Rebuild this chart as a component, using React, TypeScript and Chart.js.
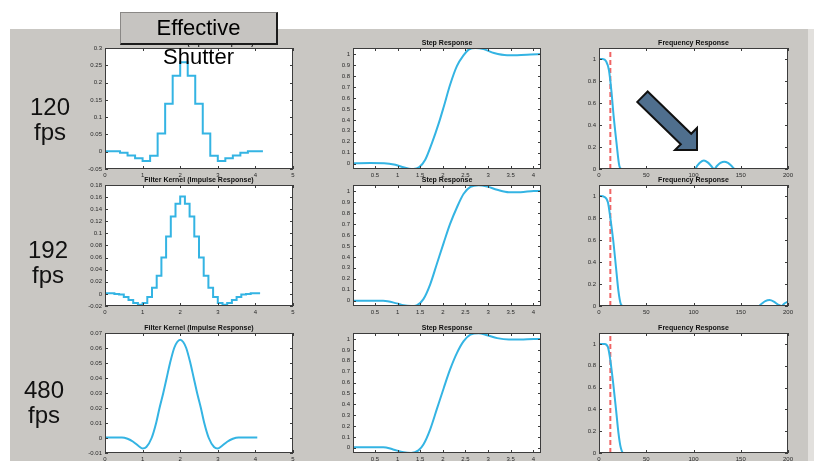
import React, { useEffect, useRef } from 'react';
import { Chart, registerables } from 'chart.js';

Chart.register(...registerables);

// ---------- tick values / labels ----------
const kernelTicksX = [0, 1, 2, 3, 4, 5];
const kernelTickLabelsX = ['0', '1', '2', '3', '4', '5'];
const stepTicksX = [0.5, 1, 1.5, 2, 2.5, 3, 3.5, 4];
const stepTickLabelsX = ['0.5', '1', '1.5', '2', '2.5', '3', '3.5', '4'];
const freqTicksX = [0, 50, 100, 150, 200];
const freqTickLabelsX = ['0', '50', '100', '150', '200'];

const kernel120TicksY = [-0.05, 0, 0.05, 0.1, 0.15, 0.2, 0.25, 0.3];
const kernel120TickLabelsY = ['-0.05', '0', '0.05', '0.1', '0.15', '0.2', '0.25', '0.3'];
const kernel192TicksY = [-0.02, 0, 0.02, 0.04, 0.06, 0.08, 0.1, 0.12, 0.14, 0.16, 0.18];
const kernel192TickLabelsY = ['-0.02', '0', '0.02', '0.04', '0.06', '0.08', '0.1', '0.12', '0.14', '0.16', '0.18'];
const kernel480TicksY = [-0.01, 0, 0.01, 0.02, 0.03, 0.04, 0.05, 0.06, 0.07];
const kernel480TickLabelsY = ['-0.01', '0', '0.01', '0.02', '0.03', '0.04', '0.05', '0.06', '0.07'];
const stepTicksY = [0, 0.1, 0.2, 0.3, 0.4, 0.5, 0.6, 0.7, 0.8, 0.9, 1];
const stepTickLabelsY = ['0', '0.1', '0.2', '0.3', '0.4', '0.5', '0.6', '0.7', '0.8', '0.9', '1'];
const freqTicksY = [0, 0.2, 0.4, 0.6, 0.8, 1];
const freqTickLabelsY = ['0', '0.2', '0.4', '0.6', '0.8', '1'];

// ---------- titles / labels ----------
const titleKernel = 'Filter Kernel (Impulse Response)';
const titleStep = 'Step Response';
const titleFreq = 'Frequency Response';
const fpsLabels = ['120', '192', '480'];
const headerLines = ['Effective', 'Shutter'];

// ---------- filter kernels (stair samples: start of each step, last = end) ----------
const kernel120X = [0, 0.2, 0.4, 0.6, 0.8, 1.0, 1.2, 1.4, 1.6, 1.8, 2.0, 2.2, 2.4, 2.6, 2.8, 3.0, 3.2, 3.4, 3.6, 3.8, 4.0, 4.2];
const kernel120Y = [0.001, 0.001, -0.003, -0.011, -0.019, -0.027, -0.012, 0.053, 0.139, 0.22, 0.259, 0.22, 0.139, 0.053, -0.012, -0.027, -0.019, -0.011, -0.003, 0.001, 0.001, 0.001];

const kernel192X = [0, 0.125, 0.25, 0.375, 0.5, 0.625, 0.75, 0.875, 1.0, 1.125, 1.25, 1.375, 1.5, 1.625, 1.75, 1.875, 2.0, 2.125, 2.25, 2.375, 2.5, 2.625, 2.75, 2.875, 3.0, 3.125, 3.25, 3.375, 3.5, 3.625, 3.75, 3.875, 4.0, 4.125];
const kernel192Y = [0.001, 0.001, 0.0, -0.001, -0.005, -0.01, -0.015, -0.018, -0.015, -0.005, 0.01, 0.03, 0.06, 0.095, 0.128, 0.149, 0.161, 0.149, 0.128, 0.095, 0.06, 0.03, 0.01, -0.005, -0.015, -0.018, -0.015, -0.01, -0.005, -0.001, 0.0, 0.001, 0.001, 0.001];

const kernel480X = [0, 0.45, 0.6, 0.75, 0.9, 1.0, 1.1, 1.24, 1.36, 1.45, 1.55, 1.64, 1.73, 1.84, 1.92, 2.0, 2.08, 2.16, 2.27, 2.36, 2.45, 2.55, 2.64, 2.76, 2.9, 3.0, 3.1, 3.25, 3.4, 3.55, 4.05];
const kernel480Y = [0.0004, 0.0004, -0.0005, -0.0025, -0.0055, -0.007, -0.006, 0, 0.01, 0.02, 0.03, 0.04, 0.05, 0.06, 0.064, 0.0655, 0.064, 0.06, 0.05, 0.04, 0.03, 0.02, 0.01, 0, -0.006, -0.007, -0.0055, -0.0025, -0.0005, 0.0004, 0.0004];

// ---------- step responses ----------
const step120X = [0.013, 0.4, 0.7, 0.95, 1.1, 1.25, 1.35, 1.48, 1.61, 1.76, 1.91, 2.02, 2.16, 2.31, 2.46, 2.57, 2.72, 2.9, 3.13, 3.42, 3.64, 3.94, 4.17];
const step120Y = [0.005, 0.006, 0.005, -0.01, -0.03, -0.045, -0.048, -0.03, 0.036, 0.19, 0.37, 0.52, 0.72, 0.89, 0.99, 1.04, 1.055, 1.045, 1.01, 0.99, 0.99, 0.995, 1.0];

const step192X = [0.013, 0.4, 0.68, 0.98, 1.13, 1.3, 1.42, 1.57, 1.72, 1.87, 2.02, 2.16, 2.31, 2.46, 2.61, 2.79, 2.98, 3.2, 3.46, 3.72, 4.01, 4.17];
const step192Y = [0.0, 0.0, 0.0, -0.024, -0.042, -0.048, -0.042, 0.015, 0.15, 0.34, 0.53, 0.7, 0.85, 0.975, 1.037, 1.052, 1.04, 1.012, 0.99, 0.99, 1.0, 1.0];

const step480X = [0.013, 0.4, 0.68, 0.9, 1.13, 1.3, 1.46, 1.57, 1.72, 1.87, 2.02, 2.16, 2.31, 2.46, 2.61, 2.79, 2.98, 3.2, 3.46, 3.72, 4.01, 4.17];
const step480Y = [0.006, 0.006, 0.006, -0.015, -0.042, -0.048, -0.024, 0.03, 0.17, 0.36, 0.55, 0.72, 0.87, 0.98, 1.04, 1.053, 1.035, 1.008, 0.995, 0.995, 1.0, 1.0];

// ---------- frequency responses ----------
const freq120X = [0, 4, 7.5, 10.5, 13, 15.5, 18.5, 21.5, 24, 60, 101.5, 104, 107, 111, 115, 118.5, 122, 125, 128.5, 132.5, 136.5, 140, 144, 170, 200];
const freq120Y = [1, 1, 0.98, 0.9, 0.72, 0.48, 0.24, 0.03, 0, 0, 0, 0.03, 0.06, 0.077, 0.06, 0.03, 0, 0.03, 0.055, 0.067, 0.055, 0.03, 0, 0, 0];

const freq192X = [0, 6, 9.5, 12, 15, 18, 20.5, 23, 25.5, 100, 169, 172, 176, 180.5, 185, 189, 193, 196.5, 200];
const freq192Y = [1, 0.99, 0.94, 0.8, 0.6, 0.35, 0.14, 0.02, 0, 0, 0, 0.02, 0.045, 0.054, 0.04, 0.015, 0, 0.025, 0.04];

const freq480X = [0, 6, 9.5, 12, 15, 18, 20.5, 23, 26, 100, 200];
const freq480Y = [1, 1, 0.97, 0.85, 0.64, 0.4, 0.19, 0.05, 0, 0, 0];

const cutoffX = [12, 12];
const cutoffY = [0, 1.1];

// ---------- styles / layout ----------
const FONT = '"Liberation Sans", Arial, Helvetica, sans-serif';
const CYAN = '#34b4e3';
const RED = '#f06464';
const PANEL = '#c9c7c3';
const AXIS_W = 32;
const AXIS_H = 14;
const PAD_T = 14;
const PAD_R = 10;

const colBoxes = [
  { x: 105, w: 188 },
  { x: 353, w: 188 },
  { x: 599, w: 189 },
];
const rowBoxes = [
  { y: 48, h: 121 },
  { y: 185, h: 121 },
  { y: 333, h: 120 },
];

const pts = (xs: number[], ys: number[]) => xs.map((x, i) => ({ x, y: ys[i] }));

const framePlugin = {
  id: 'matlabFrame',
  beforeDraw(chart: any) {
    const { ctx, chartArea: a } = chart;
    ctx.save();
    ctx.fillStyle = '#ffffff';
    ctx.fillRect(a.left, a.top, a.right - a.left, a.bottom - a.top);
    ctx.restore();
  },
  afterDraw(chart: any, _args: any, opts: any) {
    const { ctx, chartArea: a, scales } = chart;
    ctx.save();
    ctx.strokeStyle = '#3c3c3c';
    ctx.lineWidth = 1;
    ctx.strokeRect(a.left + 0.5, a.top + 0.5, a.right - a.left - 1, a.bottom - a.top - 1);
    const L = 3;
    ctx.beginPath();
    scales.x.ticks.forEach((t: any) => {
      const px = Math.round(scales.x.getPixelForValue(t.value)) + 0.5;
      ctx.moveTo(px, a.bottom);
      ctx.lineTo(px, a.bottom - L);
      ctx.moveTo(px, a.top);
      ctx.lineTo(px, a.top + L);
    });
    scales.y.ticks.forEach((t: any) => {
      const py = Math.round(scales.y.getPixelForValue(t.value)) + 0.5;
      ctx.moveTo(a.left, py);
      ctx.lineTo(a.left + L, py);
      ctx.moveTo(a.right, py);
      ctx.lineTo(a.right - L, py);
    });
    ctx.stroke();
    ctx.fillStyle = '#111111';
    ctx.font = `bold 7px ${FONT}`;
    ctx.textAlign = 'center';
    ctx.textBaseline = 'alphabetic';
    ctx.fillText(opts.text, (a.left + a.right) / 2, a.top - 3);
    ctx.restore();
  },
};

type Spec = {
  title: string;
  datasets: any[];
  xMin: number; xMax: number; xTicks: number[]; xLabels: string[];
  yMin: number; yMax: number; yTicks: number[]; yLabels: string[];
  box: { x: number; y: number; w: number; h: number };
};

function axis(min: number, max: number, ticks: number[], labels: string[], horizontal: boolean) {
  return {
    type: 'linear',
    min,
    max,
    grid: { display: false, drawTicks: false },
    border: { display: false },
    ticks: {
      padding: 3,
      color: '#2a2a2a',
      font: { size: 6, family: FONT },
      autoSkip: false,
      maxRotation: 0,
      minRotation: 0,
      callback: (_v: any, i: number) => labels[i],
    },
    afterBuildTicks: (ax: any) => {
      ax.ticks = ticks.map((v) => ({ value: v }));
    },
    afterFit: (ax: any) => {
      if (horizontal) {
        ax.height = AXIS_H;
        ax.paddingLeft = 0;
        ax.paddingRight = 0;
      } else {
        ax.width = AXIS_W;
        ax.paddingTop = 0;
        ax.paddingBottom = 0;
      }
    },
  };
}

function Plot({ spec }: { spec: Spec }) {
  const ref = useRef<HTMLCanvasElement>(null);
  const w = spec.box.w + AXIS_W + PAD_R;
  const h = spec.box.h + PAD_T + AXIS_H;
  useEffect(() => {
    const chart = new Chart(ref.current as HTMLCanvasElement, {
      type: 'line',
      data: { datasets: spec.datasets },
      options: {
        animation: false,
        responsive: false,
        maintainAspectRatio: false,
        devicePixelRatio: 1,
        layout: { padding: { left: 0, top: PAD_T, right: PAD_R, bottom: 0 } },
        elements: { point: { radius: 0 } },
        plugins: {
          legend: { display: false },
          tooltip: { enabled: false },
          matlabFrame: { text: spec.title },
        } as any,
        scales: {
          x: axis(spec.xMin, spec.xMax, spec.xTicks, spec.xLabels, true) as any,
          y: axis(spec.yMin, spec.yMax, spec.yTicks, spec.yLabels, false) as any,
        },
      },
      plugins: [framePlugin as any],
    });
    return () => chart.destroy();
  }, []);
  return (
    <canvas
      ref={ref}
      width={w}
      height={h}
      style={{ position: 'absolute', left: spec.box.x - AXIS_W, top: spec.box.y - PAD_T, width: w, height: h }}
    />
  );
}

const stairDs = (xs: number[], ys: number[]) => ({
  data: pts(xs, ys), borderColor: CYAN, borderWidth: 2, stepped: 'before', fill: false,
});
const smoothDs = (xs: number[], ys: number[]) => ({
  data: pts(xs, ys), borderColor: CYAN, borderWidth: 2, cubicInterpolationMode: 'monotone', fill: false,
});
const cutoffDs = () => ({
  data: pts(cutoffX, cutoffY), borderColor: RED, borderWidth: 2, borderDash: [5, 3], fill: false,
});

const kernelSets = [
  { ds: stairDs(kernel120X, kernel120Y), yMin: -0.05, yMax: 0.3, t: kernel120TicksY, l: kernel120TickLabelsY },
  { ds: stairDs(kernel192X, kernel192Y), yMin: -0.02, yMax: 0.18, t: kernel192TicksY, l: kernel192TickLabelsY },
  { ds: smoothDs(kernel480X, kernel480Y), yMin: -0.01, yMax: 0.07, t: kernel480TicksY, l: kernel480TickLabelsY },
];
const stepSets = [
  smoothDs(step120X, step120Y),
  smoothDs(step192X, step192Y),
  smoothDs(step480X, step480Y),
];
const freqSets = [
  smoothDs(freq120X, freq120Y),
  smoothDs(freq192X, freq192Y),
  smoothDs(freq480X, freq480Y),
];

function buildSpecs(): Spec[] {
  const specs: Spec[] = [];
  rowBoxes.forEach((r, ri) => {
    const k = kernelSets[ri];
    specs.push({
      title: titleKernel, datasets: [k.ds],
      xMin: 0, xMax: 5, xTicks: kernelTicksX, xLabels: kernelTickLabelsX,
      yMin: k.yMin, yMax: k.yMax, yTicks: k.t, yLabels: k.l,
      box: { x: colBoxes[0].x, w: colBoxes[0].w, y: r.y, h: r.h },
    });
    specs.push({
      title: titleStep, datasets: [stepSets[ri]],
      xMin: 0.013, xMax: 4.17, xTicks: stepTicksX, xLabels: stepTickLabelsX,
      yMin: -0.048, yMax: 1.055, yTicks: stepTicksY, yLabels: stepTickLabelsY,
      box: { x: colBoxes[1].x, w: colBoxes[1].w, y: r.y, h: r.h },
    });
    specs.push({
      title: titleFreq, datasets: [freqSets[ri], cutoffDs()],
      xMin: 0, xMax: 200, xTicks: freqTicksX, xLabels: freqTickLabelsX,
      yMin: 0, yMax: 1.1, yTicks: freqTicksY, yLabels: freqTickLabelsY,
      box: { x: colBoxes[2].x, w: colBoxes[2].w, y: r.y, h: r.h },
    });
  });
  return specs;
}

const fpsPos = [
  { cx: 50, top: 94 },
  { cx: 48, top: 237 },
  { cx: 44, top: 377 },
];

export default function App() {
  const specs = buildSpecs();
  return (
    <div style={{ position: 'absolute', left: 0, top: 0, width: 814, height: 461, overflow: 'hidden', background: '#ffffff' }}>
      <div style={{ position: 'absolute', left: 10, top: 29, width: 798, height: 432, background: PANEL }} />
      <div style={{ position: 'absolute', left: 808, top: 29, width: 6, height: 432, background: '#e2e0dd' }} />
      {specs.map((s, i) => (
        <Plot key={i} spec={s} />
      ))}
      {fpsLabels.map((f, i) => (
        <div
          key={f}
          style={{
            position: 'absolute', left: fpsPos[i].cx - 40, top: fpsPos[i].top, width: 80,
            textAlign: 'center', fontFamily: FONT, fontSize: 24, lineHeight: '25px', color: '#111',
          }}
        >
          {f}
          <br />
          fps
        </div>
      ))}
      <div
        style={{
          position: 'absolute', left: 120, top: 12, width: 155, height: 30,
          background: '#c6c4c1', borderTop: '1px solid #8a8886', borderLeft: '1px solid #8a8886',
          borderRight: '2px solid #1c1c1c', borderBottom: '2px solid #1c1c1c', overflow: 'visible',
        }}
      >
        <div
          style={{
            position: 'absolute', left: 0, top: 0, width: 155, textAlign: 'center',
            fontFamily: FONT, fontSize: 22, lineHeight: '29px', color: '#000', whiteSpace: 'nowrap',
          }}
        >
          {headerLines[0]}
          <br />
          {headerLines[1]}
        </div>
      </div>
      <svg width={814} height={461} style={{ position: 'absolute', left: 0, top: 0, pointerEvents: 'none' }}>
        <polygon
          points="647.7,91.5 691.2,133.8 697,128 697,150 675,150 680.8,144.2 637.3,101.9"
          fill="#4f6f8e"
          stroke="#111111"
          strokeWidth={2}
          strokeLinejoin="miter"
        />
      </svg>
    </div>
  );
}
